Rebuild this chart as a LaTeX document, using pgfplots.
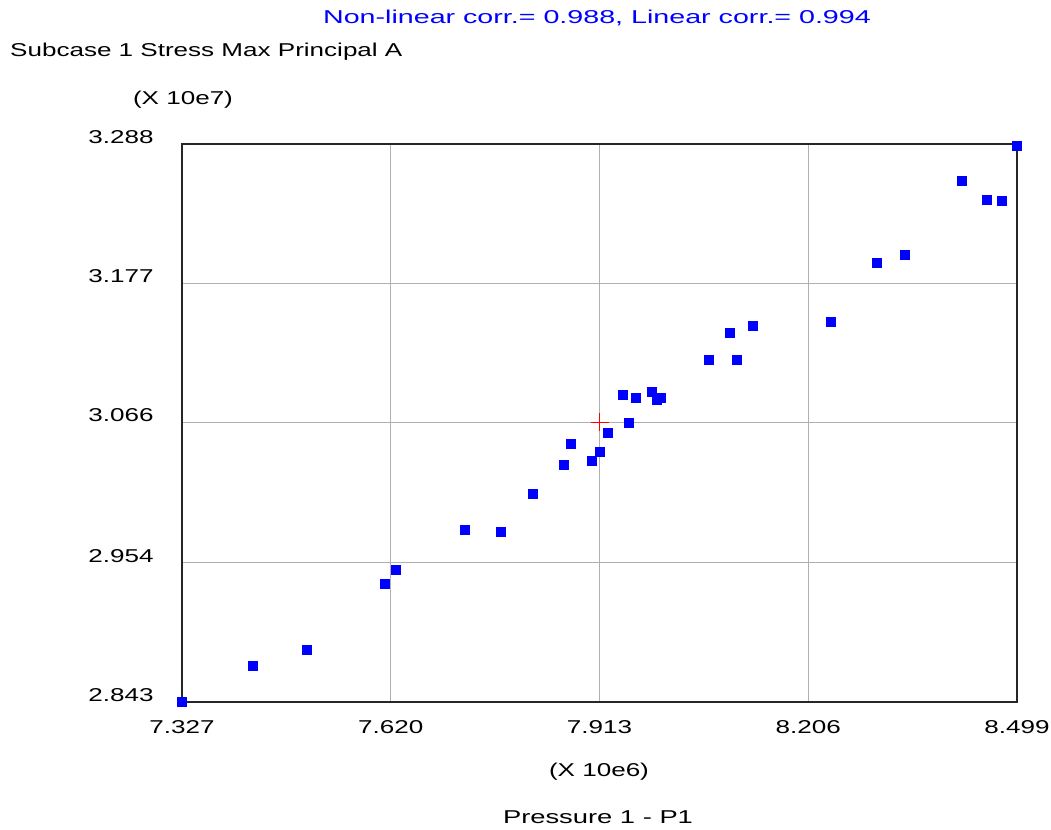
\documentclass[border=0pt]{standalone}
\usepackage{fontspec}
\setmainfont{Liberation Sans}[FakeStretch=1.4]
\usepackage{pgfplots}
\pgfplotsset{compat=1.18}
\usepackage{pgfplotstable}
\definecolor{ptblue}{RGB}{0,0,255}
\definecolor{gridgray}{RGB}{175,175,175}
\pgfplotstableread{
x y
7.327 2.8435
7.4266 2.8723
7.5015 2.8845
7.6109 2.9377
7.6269 2.9483
7.7232 2.9804
7.7743 2.9788
7.8196 3.0091
7.8622 3.0323
7.8730 3.0490
7.9024 3.0352
7.9137 3.0429
7.9239 3.0581
7.9534 3.0658
7.9455 3.0884
7.9642 3.0857
7.9862 3.0902
7.9932 3.0839
7.9989 3.0854
8.0657 3.1160
8.1059 3.1160
8.0951 3.1373
8.1274 3.1434
8.2369 3.1463
8.3015 3.1937
8.3413 3.1997
8.4217 3.2591
8.4564 3.2439
8.4779 3.2425
8.4990 3.2870
}\datatable
\begin{document}
\fontsize{18.6bp}{22bp}\selectfont
\begin{tikzpicture}
\useasboundingbox (0,0) rectangle (1051bp,830bp);
\begin{axis}[
  at={(182bp,128bp)}, anchor=south west,
  width=835bp, height=558bp, scale only axis,
  xmin=7.327, xmax=8.499, ymin=2.843, ymax=3.288,
  xtick={7.327,7.620,7.913,8.206,8.499},
  xticklabels={7.327,7.620,7.913,8.206,8.499},
  ytick={2.843,2.954,3.066,3.177,3.288},
  yticklabels={2.843,2.954,3.066,3.177,3.288},
  major tick length=0pt,
  grid=major,
  major grid style={gridgray, line width=1.3bp},
  axis line style={black!85, line width=1.6bp},
  tick label style={font=\fontsize{18.6bp}{22bp}\selectfont},
  yticklabel style={anchor=east, xshift=-22bp, yshift=7bp},
  xticklabel style={anchor=north, yshift=-12bp},
  clip=false,
]
\addplot[only marks, mark=square*, mark size=4.5bp, ptblue, mark options={fill=ptblue, draw=ptblue}] table[x=x,y=y] {\datatable};
\addplot[only marks, mark=+, mark size=9bp, red, mark options={line width=1.2bp}] coordinates {(7.913,3.066)};
\end{axis}
\node[ptblue, anchor=center, xscale=1.1, transform shape] at (597bp,812bp) {Non-linear corr.= 0.988, Linear corr.= 0.994};
\node[black, anchor=west, inner sep=0pt] at (10bp,778bp) {Subcase 1 Stress Max Principal A};
\node[black, anchor=center] at (183bp,730bp) {(X 10e7)};
\node[black, anchor=center] at (599bp,58bp) {(X 10e6)};
\node[black, anchor=center, xscale=1.05, transform shape] at (598bp,13bp) {Pressure 1 - P1};
\end{tikzpicture}
\end{document}
